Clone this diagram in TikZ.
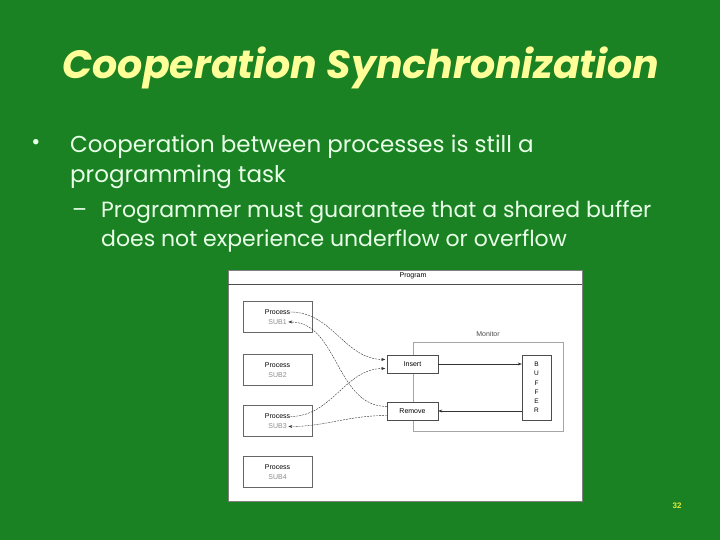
\documentclass[tikz,border=0pt]{standalone}
\usepackage{fontspec}
\setmainfont{Poppins}
\setsansfont{Liberation Sans}
\usetikzlibrary{arrows.meta, positioning, calc}
\definecolor{slidegreen}{RGB}{27,130,35}
\definecolor{titleyellow}{RGB}{255,255,153}
\definecolor{bodytext}{RGB}{232,255,232}
\definecolor{numyellow}{RGB}{225,235,60}

\begin{document}
\begin{tikzpicture}[
    x=1pt, y=1pt,
    proc/.style={rectangle, draw=black!60, fill=white, minimum width=69pt, minimum height=31pt, inner sep=0pt},
    op/.style={rectangle, draw=black!70, fill=white, minimum width=51pt, minimum height=18pt, inner sep=0pt, font=\sffamily\fontsize{7}{8}\selectfont},
    lbl/.style={font=\sffamily\fontsize{7}{8}\selectfont, inner sep=0pt},
    subname/.style={font=\sffamily\fontsize{7}{8}\selectfont, text=black!45, inner sep=0pt},
    call/.style={-{Stealth[length=4pt, width=3pt]}, black!80, dash pattern=on 2pt off 1pt, line width=0.4pt, shorten >=1.5pt},
    flow/.style={-{Stealth[length=4pt, width=3pt]}, black!80, line width=0.5pt},
    body/.style={text=bodytext, anchor=base west, inner sep=0pt, font=\fontsize{23}{27}\selectfont},
    subbody/.style={text=bodytext, anchor=base west, inner sep=0pt, font=\fontsize{22}{26}\selectfont}
]
    % Slide
    \fill[slidegreen] (0,0) rectangle (720,540);
    \useasboundingbox (0,0) rectangle (720,540);

    \node[text=titleyellow, font=\bfseries\itshape\fontsize{39.5}{44}\selectfont] (title) at (361,472) {Cooperation Synchronization};

    % Bullets
    \node[text=bodytext, font=\fontsize{22}{22}\selectfont] (dot) at (36,396) {\textbullet};
    \node[body] (l1) at (70,387) {Cooperation between processes is still a};
    \node[body] (l2) at (70,357) {programming task};
    \node[subbody] (dash) at (72,322) {--};
    \node[subbody] (l3) at (101,322) {Programmer must guarantee that a shared buffer};
    \node[subbody] (l4) at (101,293) {does not experience underflow or overflow};

    % Program panel
    \node[rectangle, draw=black!50, fill=white, minimum width=354pt, minimum height=231pt] (panel) at (405,154.5) {};
    \draw[black!70] (228,256) -- (582,256);
    \node[lbl] (prog) at (413,264) {Program};

    % Processes
    \node[proc] (sub1) at (277.5,223.5) {};
    \node[lbl] (p1) at (277.5,228) {Process};
    \node[subname] (s1) at (277.5,218) {SUB1};
    \node[proc] (sub2) at (277.5,170) {};
    \node[lbl] (p2) at (277.5,174.5) {Process};
    \node[subname] (s2) at (277.5,164.5) {SUB2};
    \node[proc] (sub3) at (277.5,119) {};
    \node[lbl] (p3) at (277.5,123.5) {Process};
    \node[subname] (s3) at (277.5,113.5) {SUB3};
    \node[proc] (sub4) at (277.5,68) {};
    \node[lbl] (p4) at (277.5,72.5) {Process};
    \node[subname] (s4) at (277.5,62.5) {SUB4};

    % Monitor
    \node[rectangle, draw=black!35, minimum width=150pt, minimum height=89pt] (mon) at (488,153.5) {};
    \node[lbl, text=black!70, above=5pt of mon] (monlbl) {Monitor};
    \node[op] (ins) at (412.5,176) {Insert};
    \node[op] (rem) at (412.5,129) {Remove};
    \node[rectangle, draw=black!70, fill=white, minimum width=29pt, minimum height=65pt, inner sep=0pt, align=center, font=\sffamily\fontsize{6.5}{9.3}\selectfont] (buf) at (536.5,152.5) {B\\U\\F\\F\\E\\R};

    \draw[flow] (ins.east) -- (ins.east -| buf.west);
    \draw[flow] (rem.east -| buf.west) -- (rem.east);

    % Calls
    \draw[call] (p1.east) to[out=0, in=180] (ins.170);
    \draw[call] (rem.170) to[out=180, in=0] (s1.east);
    \draw[call] (p3.east) to[out=0, in=180] (ins.190);
    \draw[call] (rem.190) to[out=180, in=0] (s3.east);

    \node[text=numyellow, font=\sffamily\bfseries\fontsize{8}{9}\selectfont] (num) at (677,34) {32};
\end{tikzpicture}
\end{document}
